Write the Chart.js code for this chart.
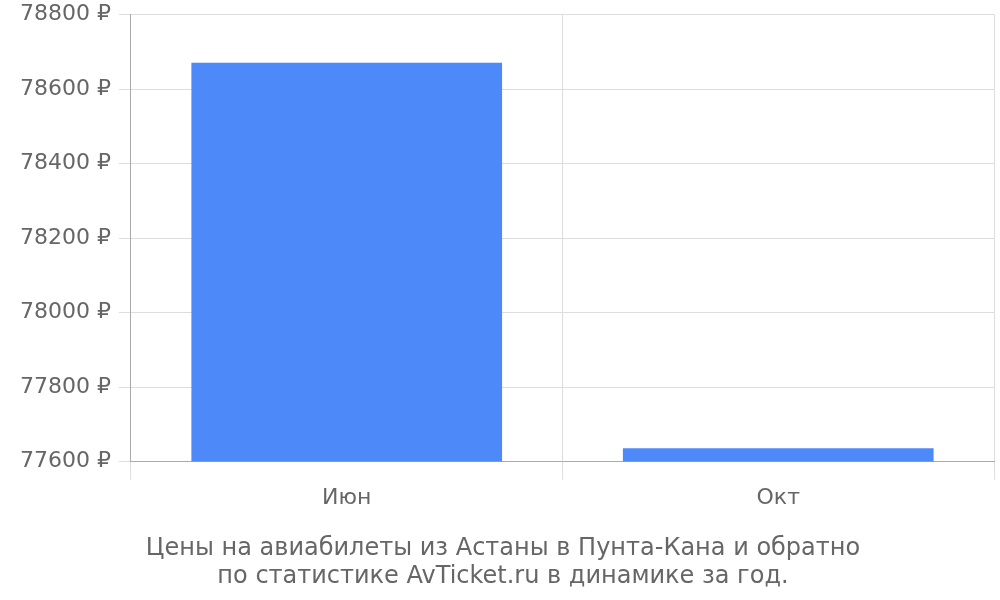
<!DOCTYPE html>
<html>
<head>
<meta charset="utf-8">
<script src="https://cdn.jsdelivr.net/npm/chart.js@4"></script>
<style>
html,body{margin:0;padding:0;background:#fff;}
#wrap{width:1000px;height:600px;}
</style>
</head>
<body>
<div id="wrap"><canvas id="c" width="1000" height="600"></canvas></div>
<script>
const categories = ["Июн", "Окт"];
const prices = [78671, 77636];
const yTicks = [77600, 77800, 78000, 78200, 78400, 78600, 78800];
const titleLines = ["Цены на авиабилеты из Астаны в Пунта-Кана и обратно", "по статистике AvTicket.ru в динамике за год."];

Chart.defaults.font.family = "'DejaVu Sans', sans-serif";
Chart.defaults.color = "#666";

new Chart(document.getElementById('c'), {
  type: 'bar',
  data: {
    labels: categories,
    datasets: [{
      data: prices,
      backgroundColor: '#4d89f9',
      borderWidth: 0,
      barPercentage: 0.9,
      categoryPercentage: 0.8
    }]
  },
  options: {
    responsive: false,
    animation: false,
    layout: { padding: { left: 12, right: 6, top: 0, bottom: 0 } },
    plugins: {
      legend: { display: false },
      tooltip: { enabled: false },
      title: {
        display: true,
        position: 'bottom',
        text: titleLines,
        color: '#666',
        font: { size: 24, weight: 'normal', lineHeight: 1.1667 },
        padding: { top: 19, bottom: 9 }
      }
    },
    scales: {
      x: {
        grid: { color: '#ddd', tickLength: 18, offset: true },
        border: { color: '#aaa' },
        ticks: { font: { size: 22 }, color: '#666', padding: 5 }
      },
      y: {
        min: yTicks[0],
        max: yTicks[yTicks.length - 1],
        afterBuildTicks: (axis) => { axis.ticks = yTicks.map(v => ({ value: v })); },
        grid: { color: '#ddd', tickLength: 12 },
        border: { color: '#aaa' },
        ticks: {
          font: { size: 22, lineHeight: 0.6 },
          color: '#666',
          padding: 8,
          callback: (v) => v + ' ₽'
        }
      }
    }
  }
});
</script>
</body>
</html>
